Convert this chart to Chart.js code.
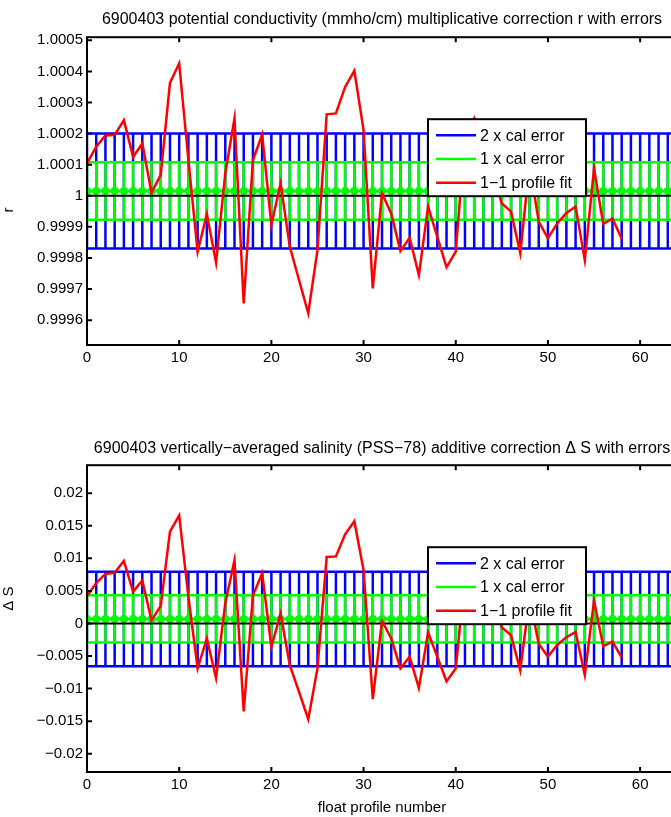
<!DOCTYPE html>
<html>
<head>
<meta charset="utf-8">
<title>6900403 calibration corrections</title>
<script src="https://cdn.jsdelivr.net/npm/chart.js@4.4.0/dist/chart.umd.min.js"></script>
<style>
  html, body { margin: 0; padding: 0; background: #fff; overflow: hidden; }
  .panel { position: absolute; left: 0; width: 700px; }
  #top { top: 0; height: 408px; }
  #bottom { top: 408px; height: 409px; }
</style>
</head>
<body>
<div class="panel" id="top"><canvas id="rChart" width="700" height="408"></canvas></div>
<div class="panel" id="bottom"><canvas id="dsChart" width="700" height="409"></canvas></div>
<script>
// float profile numbers that carry a calibration error bar
const profiles = [0, 1, 2, 3, 4, 5, 6, 7, 8, 9, 10, 11, 12, 13, 14, 15, 16, 17, 18, 19,
  20, 21, 22, 23, 24, 25, 26, 27, 28, 29, 30, 31, 32, 33, 34, 35, 36, 37, 38, 39,
  40, 41, 42, 43, 44, 45, 46, 47, 48, 49, 50, 51, 52, 53, 54, 55, 56, 57, 58, 59,
  60, 61, 62, 63, 64];

// profiles with a 1-1 fit
const fitProfiles = [0, 1, 2, 3, 4, 5, 6, 7, 8, 9, 10, 11, 12, 13, 14, 15, 16, 17, 18, 19,
  20, 21, 22, 23, 24, 25, 26, 27, 28, 29, 30, 31, 32, 33, 34, 35, 36, 37, 38, 39,
  40, 41, 42, 43, 44, 45, 46, 47, 48, 49, 50, 51, 52, 53, 54, 55, 56, 57, 58];

// conductivity correction r, 1-1 profile fit
const rFit = [1.000104, 1.000158, 1.000194, 1.000196, 1.000243, 1.000125, 1.000168, 1.000010,
  1.000067, 1.000363, 1.000426, 1.000115, 0.999820, 0.999941, 0.999785, 1.000072,
  1.000249, 0.999654, 1.000115, 1.000197, 0.999906, 1.000040, 0.999836, 0.999729,
  0.999622, 0.999825, 1.000262, 1.000265, 1.000350, 1.000402, 1.000211, 0.999702,
  1.000008, 0.999943, 0.999822, 0.999865, 0.999745, 0.999965, 0.999868, 0.999770,
  0.999820, 1.000190, 1.000249, 1.000150, 1.000080, 0.999975, 0.999949, 0.999815,
  1.000100, 0.999917, 0.999863, 0.999911, 0.999945, 0.999965, 0.999793, 1.000088,
  0.999909, 0.999927, 0.999862];

// salinity correction delta S, 1-1 profile fit
const dsFit = [0.0042, 0.0062, 0.0076, 0.0078, 0.0096, 0.0049, 0.0066, 0.0005,
  0.0027, 0.0141, 0.0166, 0.0041, -0.0069, -0.0023, -0.0084, 0.0031,
  0.0097, -0.0135, 0.0043, 0.0077, -0.0036, 0.0015, -0.0064, -0.0105,
  -0.0147, -0.0069, 0.0102, 0.0103, 0.0137, 0.0157, 0.0082, -0.0116,
  0.0004, -0.0023, -0.0069, -0.0051, -0.0099, -0.0014, -0.0051, -0.0089,
  -0.0069, 0.0074, 0.0097, 0.0059, 0.0031, -0.0006, -0.0018, -0.0072,
  0.0039, -0.0031, -0.0051, -0.0033, -0.0021, -0.0013, -0.0079, 0.0035,
  -0.0035, -0.0028, -0.0052];

// calibrated value and its 1 x error
const rCal = 1.000015;
const rCalErr = 0.0000925;
const dsCal = 0.0007;
const dsCalErr = 0.00363;

const xTicks = [0, 10, 20, 30, 40, 50, 60];
const rTicks = [0.9996, 0.9997, 0.9998, 0.9999, 1, 1.0001, 1.0002, 1.0003, 1.0004, 1.0005];
const rTickLabels = ['0.9996', '0.9997', '0.9998', '0.9999', '1', '1.0001', '1.0002', '1.0003', '1.0004', '1.0005'];
const dsTicks = [-0.02, -0.015, -0.01, -0.005, 0, 0.005, 0.01, 0.015, 0.02];
const dsTickLabels = ['\u22120.02', '\u22120.015', '\u22120.01', '\u22120.005', '0', '0.005', '0.01', '0.015', '0.02'];

const FONT = '"Liberation Sans", Arial, Helvetica, sans-serif';
Chart.defaults.font.family = FONT;
Chart.defaults.font.size = 15;
Chart.defaults.color = '#000';

// vertical bar + caps for every profile, broken apart with null points
function errorBars(center, err) {
  const pts = [];
  const cap = 0.5;
  profiles.forEach(p => {
    const lo = center - err, hi = center + err;
    pts.push({x: p, y: lo}, {x: p, y: hi}, {x: p, y: null});
    pts.push({x: p - cap, y: hi}, {x: p + cap, y: hi}, {x: p, y: null});
    pts.push({x: p - cap, y: lo}, {x: p + cap, y: lo}, {x: p, y: null});
  });
  return pts;
}

// matlab style box, inward ticks, y label and legend inside the axes
const matlabAxes = {
  id: 'matlabAxes',
  afterDraw(chart, args, opts) {
    const {ctx, chartArea: a, scales} = chart;
    ctx.save();
    ctx.strokeStyle = '#000';
    ctx.lineWidth = 2;
    ctx.beginPath();
    scales.x.ticks.forEach(t => {
      const px = scales.x.getPixelForValue(t.value);
      ctx.moveTo(px, a.bottom); ctx.lineTo(px, a.bottom - 5);
      ctx.moveTo(px, a.top); ctx.lineTo(px, a.top + 5);
    });
    scales.y.ticks.forEach(t => {
      const py = scales.y.getPixelForValue(t.value);
      ctx.moveTo(a.left, py); ctx.lineTo(a.left + 5, py);
      ctx.moveTo(a.right, py); ctx.lineTo(a.right - 5, py);
    });
    ctx.stroke();
    ctx.strokeRect(a.left, a.top, a.right - a.left, a.bottom - a.top);

    // y label, rotated
    ctx.save();
    ctx.translate(9, (a.top + a.bottom) / 2 + opts.yLabelShift);
    ctx.rotate(-Math.PI / 2);
    ctx.font = '15px ' + FONT;
    ctx.fillStyle = '#000';
    ctx.textAlign = 'center';
    ctx.textBaseline = 'middle';
    ctx.fillText(opts.yLabel, 0, 0);
    ctx.restore();

    // legend
    const lx = a.left + 341, ly = a.top + 82, lw = 158, lh = 77;
    ctx.fillStyle = '#fff';
    ctx.fillRect(lx, ly, lw, lh);
    ctx.strokeRect(lx, ly, lw, lh);
    const items = chart.data.datasets.filter(d => d.label);
    ctx.font = '16px ' + FONT;
    ctx.textBaseline = 'middle';
    items.forEach((d, i) => {
      const y = ly + 16 + i * 23.8;
      ctx.strokeStyle = d.borderColor;
      ctx.lineWidth = 2.5;
      ctx.beginPath();
      ctx.moveTo(lx + 8, y); ctx.lineTo(lx + 48, y);
      ctx.stroke();
      ctx.fillStyle = '#000';
      ctx.fillText(d.label, lx + 52, y + 1);
    });
    ctx.restore();
  }
};

function makeChart(id, opts) {
  const lineDefaults = {showLine: true, pointRadius: 0, pointHoverRadius: 0, borderWidth: 2.5, spanGaps: false};
  return new Chart(document.getElementById(id), {
    type: 'scatter',
    data: {
      datasets: [
        Object.assign({}, lineDefaults, {
          label: '2 x cal error', order: 5, borderColor: '#0000ff',
          data: errorBars(opts.cal, 2 * opts.err)
        }),
        Object.assign({}, lineDefaults, {
          label: '1 x cal error', order: 4, borderColor: '#00ff00',
          data: errorBars(opts.cal, opts.err)
        }),
        Object.assign({}, lineDefaults, {
          order: 3, borderColor: '#00ff00', borderWidth: 3, pointRadius: 4,
          pointBackgroundColor: '#00ff00', pointBorderWidth: 0,
          data: profiles.map(p => ({x: p, y: opts.cal}))
        }),
        Object.assign({}, lineDefaults, {
          order: 2, borderColor: '#000000', borderWidth: 2,
          data: [{x: 0, y: opts.zero}, {x: 64, y: opts.zero}]
        }),
        Object.assign({}, lineDefaults, {
          label: '1\u22121 profile fit', order: 1, borderColor: '#ff0000',
          data: fitProfiles.map((p, i) => ({x: p, y: opts.fit[i]}))
        })
      ]
    },
    options: {
      responsive: false,
      animation: false,
      events: [],
      layout: {padding: {left: 0, right: 23, top: 0, bottom: 0}},
      plugins: {
        legend: {display: false},
        tooltip: {enabled: false},
        title: {
          display: true, text: opts.title, fullSize: false,
          font: {size: 16, weight: 'normal'}, color: '#000',
          padding: opts.titlePad
        },
        matlabAxes: {yLabel: opts.yTitle, yLabelShift: opts.yTitleShift}
      },
      scales: {
        x: {
          type: 'linear', min: 0, max: 64,
          grid: {display: false, drawTicks: false},
          border: {display: false},
          afterBuildTicks: s => { s.ticks = xTicks.map(v => ({value: v})); },
          afterFit: s => { s.height = opts.xHeight; },
          ticks: {padding: 4, maxRotation: 0, autoSkip: false, callback: v => String(v)},
          title: {display: !!opts.xTitle, text: opts.xTitle, font: {size: 15}, padding: {top: 8, bottom: 0}}
        },
        y: {
          type: 'linear', min: opts.yMin, max: opts.yMax,
          grid: {display: false, drawTicks: false},
          border: {display: false},
          afterBuildTicks: s => { s.ticks = opts.yTicks.map(v => ({value: v})); },
          afterFit: s => { s.width = 87; },
          ticks: {padding: 4, autoSkip: false, callback: (v, i) => opts.yLabels[i]}
        }
      }
    },
    plugins: [matlabAxes]
  });
}

makeChart('rChart', {
  title: '6900403 potential conductivity (mmho/cm) multiplicative correction r with errors',
  titlePad: {top: 10, bottom: 8},
  cal: rCal, err: rCalErr, zero: 1, fit: rFit,
  yMin: 0.99952, yMax: 1.00051, yTicks: rTicks, yLabels: rTickLabels,
  yTitle: 'r', yTitleShift: 19,
  xHeight: 63, xTitle: ''
});

makeChart('dsChart', {
  title: '6900403 vertically\u2212averaged salinity (PSS\u221278) additive correction \u0394 S with errors',
  titlePad: {top: 31, bottom: 7},
  cal: dsCal, err: dsCalErr, zero: 0, fit: dsFit,
  yMin: -0.0228, yMax: 0.0243, yTicks: dsTicks, yLabels: dsTickLabels,
  yTitle: '\u0394 S', yTitleShift: -20,
  xHeight: 45, xTitle: 'float profile number'
});
</script>
</body>
</html>
